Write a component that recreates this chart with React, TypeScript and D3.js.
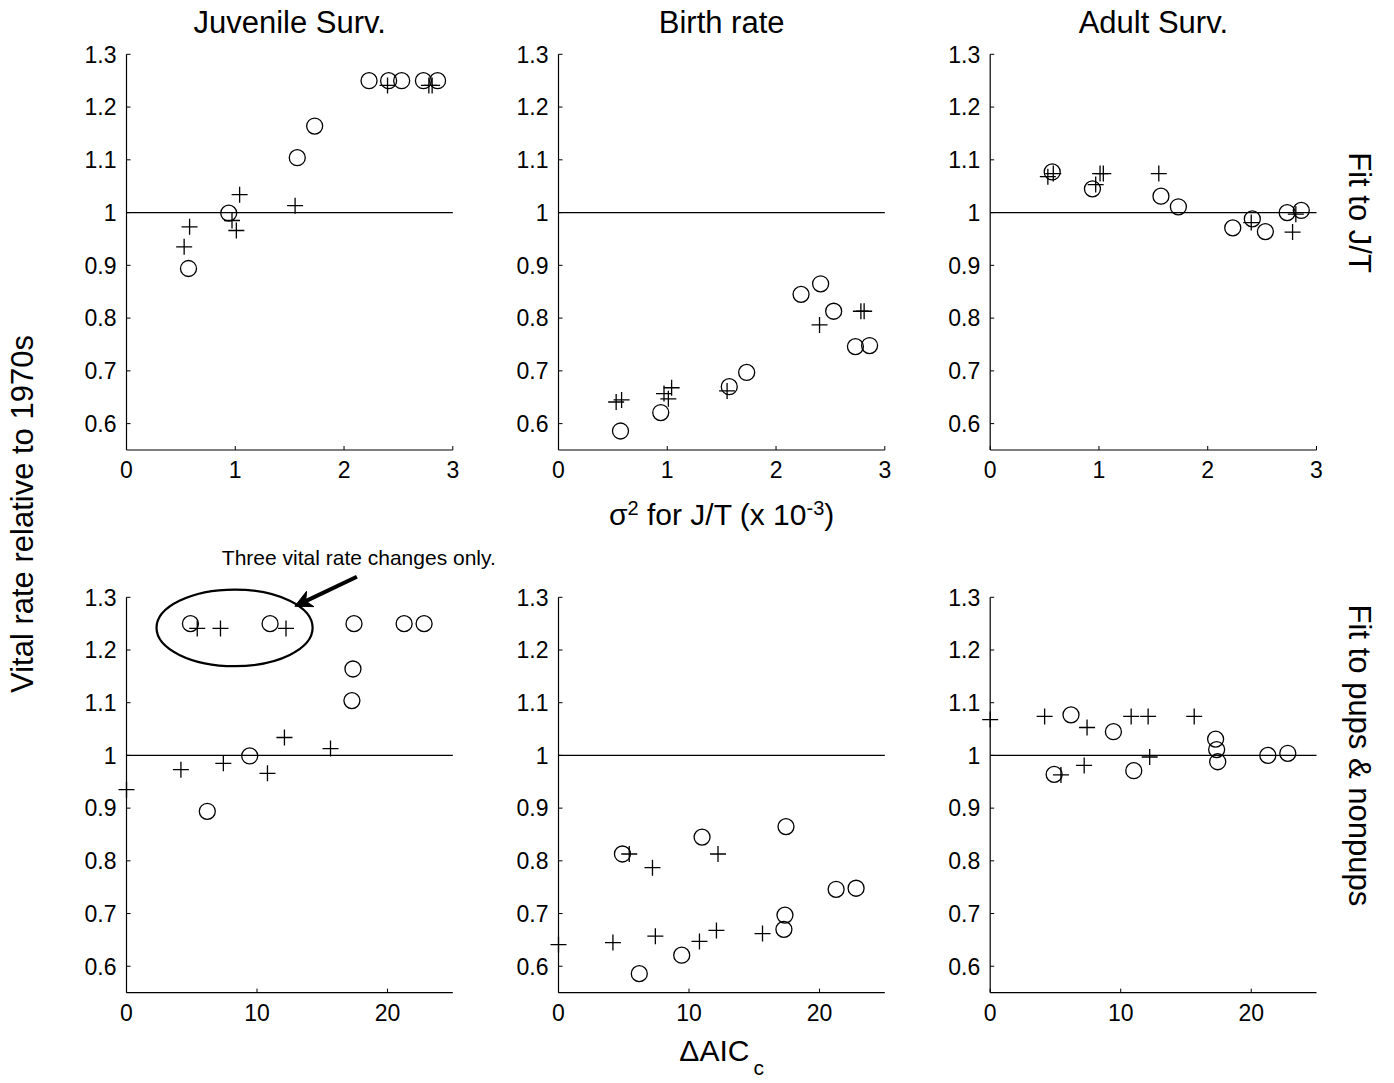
import React from "react";
import * as d3 from "d3";

// ---- data (9 circle models, 9 plus models) ----
const circleSigma = [0.57, 0.94, 1.57, 1.73, 2.23, 2.41, 2.53, 2.73, 2.86];
const circleAIC = [6.19, 9.44, 17.27, 17.35, 11.0, 17.43, 4.9, 21.27, 22.8];
const circleJuv = [0.894, 0.999, 1.104, 1.164, 1.25, 1.25, 1.25, 1.25, 1.25];
const circleBirth = [0.586, 0.621, 0.67, 0.697, 0.845, 0.865, 0.813, 0.746, 0.748];
const circleAdult = [1.077, 1.045, 1.031, 1.011, 0.971, 0.988, 0.964, 1.0, 1.004];

const plusSigma = [0.53, 0.58, 0.97, 1.01, 1.04, 1.55, 2.4, 2.78, 2.81];
const plusAIC = [0.0, 4.17, 7.42, 10.8, 12.1, 15.63, 7.2, 5.42, 12.22];
const plusJuv = [0.935, 0.973, 0.985, 0.966, 1.034, 1.013, 1.241, 1.241, 1.241];
const plusBirth = [0.641, 0.645, 0.657, 0.647, 0.668, 0.662, 0.787, 0.813, 0.813];
const plusAdult = [1.068, 1.074, 1.053, 1.074, 1.074, 1.074, 0.981, 0.963, 0.997];

const columnTitles = ["Juvenile Surv.", "Birth rate", "Adult Surv."];
const rowLabels = ["Fit to J/T", "Fit to pups & nonpups"];
const yTicks = [0.6, 0.7, 0.8, 0.9, 1, 1.1, 1.2, 1.3];
const xTicksTop = [0, 1, 2, 3];
const xTicksBottom = [0, 10, 20];
const yDomain = [0.55, 1.3];
const xDomainTop = [0, 3];
const xDomainBottom = [0, 25];

// annotation (bottom-left panel, data coords)
const noteText = "Three vital rate changes only.";
const ellipseCenter = [8.28, 1.242];
const ellipseRadii = [5.98, 0.0727];
const arrowFrom = [17.65, 1.339];
const arrowTo = [12.9, 1.283];
const noteAt = [17.8, 1.361];

const FONT = "'Liberation Sans', Arial, Helvetica, sans-serif";
const W = 1394;
const H = 1083;
const colLeft = [126.5, 558.5, 990.2];
const plotW = 326.3;
const rowY = [
  [54.3, 450],
  [597.3, 992.6],
];

type PanelProps = { row: number; col: number };

function Panel({ row, col }: PanelProps) {
  const x0 = colLeft[col];
  const [yTop, yBot] = rowY[row];
  const x = d3
    .scaleLinear()
    .domain(row === 0 ? xDomainTop : xDomainBottom)
    .range([x0, x0 + plotW]);
  const y = d3.scaleLinear().domain(yDomain).range([yBot, yTop]);
  const xTicks = row === 0 ? xTicksTop : xTicksBottom;
  const cx = row === 0 ? circleSigma : circleAIC;
  const px = row === 0 ? plusSigma : plusAIC;
  const cy = [circleJuv, circleBirth, circleAdult][col];
  const py = [plusJuv, plusBirth, plusAdult][col];
  const r = 8;
  const p = 8;
  return (
    <g>
      {/* axes */}
      <line x1={x0} x2={x0} y1={yTop} y2={yBot} stroke="#000" strokeWidth={1.2} />
      <line x1={x0} x2={x0 + plotW} y1={yBot} y2={yBot} stroke="#000" strokeWidth={1.2} />
      {yTicks.map((t) => (
        <g key={"y" + t}>
          <line x1={x0} x2={x0 + 4} y1={y(t)} y2={y(t)} stroke="#000" strokeWidth={1} />
          <text
            x={x0 - 10}
            y={y(t)}
            dy="0.36em"
            textAnchor="end"
            fontFamily={FONT}
            fontSize={23}
          >
            {String(t)}
          </text>
        </g>
      ))}
      {xTicks.map((t) => (
        <g key={"x" + t}>
          <line x1={x(t)} x2={x(t)} y1={yBot} y2={yBot - 4} stroke="#000" strokeWidth={1} />
          <text x={x(t)} y={yBot + 28} textAnchor="middle" fontFamily={FONT} fontSize={23}>
            {String(t)}
          </text>
        </g>
      ))}
      {/* reference line */}
      <line
        x1={x(x.domain()[0])}
        x2={x(x.domain()[1])}
        y1={y(1)}
        y2={y(1)}
        stroke="#000"
        strokeWidth={1.3}
      />
      {/* circles */}
      {cx.map((v, i) => (
        <circle
          key={"c" + i}
          cx={x(v)}
          cy={y(cy[i])}
          r={r}
          fill="none"
          stroke="#000"
          strokeWidth={1.3}
        />
      ))}
      {/* pluses */}
      {px.map((v, i) => {
        const X = x(v);
        const Y = y(py[i]);
        return (
          <path
            key={"p" + i}
            d={`M${X - p},${Y}H${X + p}M${X},${Y - p}V${Y + p}`}
            fill="none"
            stroke="#000"
            strokeWidth={1.3}
          />
        );
      })}
      {row === 1 && col === 0 && <Annotation x={x} y={y} />}
    </g>
  );
}

function Annotation({ x, y }: { x: d3.ScaleLinear<number, number>; y: d3.ScaleLinear<number, number> }) {
  const ecx = x(ellipseCenter[0]);
  const ecy = y(ellipseCenter[1]);
  const rx = x(ellipseCenter[0] + ellipseRadii[0]) - ecx;
  const ry = ecy - y(ellipseCenter[1] + ellipseRadii[1]);
  const tx = x(arrowFrom[0]);
  const ty = y(arrowFrom[1]);
  const hx = x(arrowTo[0]);
  const hy = y(arrowTo[1]);
  const dx = hx - tx;
  const dy = hy - ty;
  const len = Math.hypot(dx, dy);
  const ux = dx / len;
  const uy = dy / len;
  const nx = -uy;
  const ny = ux;
  const L = 17;
  const w = 8.5;
  const notch = 12;
  const bx = hx - ux * L;
  const by = hy - uy * L;
  const mx = hx - ux * notch;
  const my = hy - uy * notch;
  const head = `M${hx},${hy}L${bx + nx * w},${by + ny * w}L${mx},${my}L${bx - nx * w},${by - ny * w}Z`;
  return (
    <g>
      <ellipse cx={ecx} cy={ecy} rx={rx} ry={ry} fill="none" stroke="#000" strokeWidth={2.2} />
      <line x1={tx} y1={ty} x2={mx} y2={my} stroke="#000" strokeWidth={4} />
      <path d={head} fill="#000" stroke="#000" strokeWidth={1} />
      <text x={x(noteAt[0])} y={y(noteAt[1])} textAnchor="middle" fontFamily={FONT} fontSize={21}>
        {noteText}
      </text>
    </g>
  );
}

export default function App() {
  const centers = colLeft.map((l) => l + plotW / 2);
  const yMid = (row: number) =>
    d3.scaleLinear().domain(yDomain).range([rowY[row][1], rowY[row][0]])(1);
  return (
    <svg
      width={W}
      height={H}
      viewBox={`0 0 ${W} ${H}`}
      style={{ position: "absolute", left: 0, top: 0, background: "#fff" }}
    >
      <rect x={0} y={0} width={W} height={H} fill="#fff" />
      {[0, 1].map((row) =>
        [0, 1, 2].map((col) => <Panel key={row + "-" + col} row={row} col={col} />)
      )}
      {columnTitles.map((t, i) => (
        <text key={t} x={centers[i]} y={33} textAnchor="middle" fontFamily={FONT} fontSize={31}>
          {t}
        </text>
      ))}
      {rowLabels.map((t, i) => (
        <text
          key={t}
          transform={`translate(1349,${yMid(i)}) rotate(90)`}
          textAnchor="middle"
          fontFamily={FONT}
          fontSize={31}
        >
          {t}
        </text>
      ))}
      <text
        transform={`translate(33,514) rotate(-90)`}
        textAnchor="middle"
        fontFamily={FONT}
        fontSize={31}
      >
        Vital rate relative to 1970s
      </text>
      <text x={centers[1]} y={525} textAnchor="middle" fontFamily={FONT} fontSize={30}>
        σ<tspan dy={-10} fontSize={20}>2</tspan>
        <tspan dy={10}> for J/T (x 10</tspan>
        <tspan dy={-10} fontSize={20}>-3</tspan>
        <tspan dy={10}>)</tspan>
      </text>
      <text x={centers[1]} y={1061} textAnchor="middle" fontFamily={FONT} fontSize={30}>
        ΔAIC<tspan dx={4} dy={14} fontSize={21}>c</tspan>
      </text>
    </svg>
  );
}
